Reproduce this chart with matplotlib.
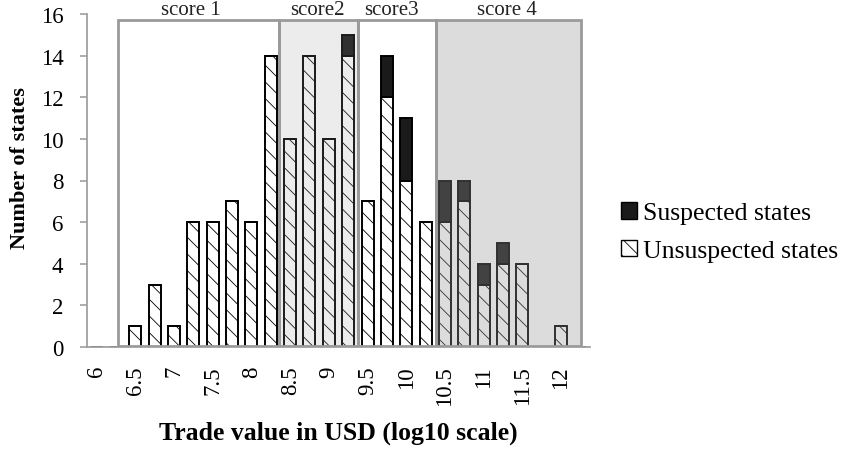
import numpy as np
import matplotlib
matplotlib.use("Agg")
import matplotlib.pyplot as plt
from matplotlib.patches import Rectangle, Patch

# data
categories = [6, 6.25, 6.5, 6.75, 7, 7.25, 7.5, 7.75, 8, 8.25, 8.5, 8.75, 9,
              9.25, 9.5, 9.75, 10, 10.25, 10.5, 10.75, 11, 11.25, 11.5, 11.75,
              12, 12.25]
unsuspected = [0, 0, 1, 3, 1, 6, 6, 7, 6, 14, 10, 14, 10,
               14, 7, 12, 8, 6, 6, 7, 3, 4, 4, 0,
               1, 0]
suspected = [0, 0, 0, 0, 0, 0, 0, 0, 0, 0, 0, 0, 0,
             1, 0, 2, 3, 0, 2, 1, 1, 1, 0, 0,
             0, 0]
tick_values = [6, 6.5, 7, 7.5, 8, 8.5, 9, 9.5, 10, 10.5, 11, 11.5, 12]
tick_labels = ['6', '6.5', '7', '7.5', '8', '8.5', '9', '9.5', '10', '10.5',
               '11', '11.5', '12']

score_names = ['score 1', 'score2', 'score3', 'score 4']
score_edges = [6.27, 8.35, 9.38, 10.38, 12.255]
score_label_x = [7.22, 8.85, 9.81, 11.3]
score_fill = [None, 0.18, None, 0.33]

plt.rcParams['font.family'] = ['Liberation Serif', 'DejaVu Serif']
plt.rcParams['hatch.linewidth'] = 0.6
plt.rcParams['hatch.color'] = '#444444'

fig = plt.figure(figsize=(8.48, 4.52), dpi=100)
ax = fig.add_axes([87 / 848, 1 - 348 / 452, 503 / 848, 333 / 452])

x = np.array(categories)
u = np.array(unsuspected)
s = np.array(suspected)

ax.bar(x, u, width=0.155, color='white', edgecolor='black', linewidth=1.4,
       hatch='\\\\', zorder=2)
ax.bar(x, s, width=0.155, bottom=u, color='#1a1a1a', edgecolor='black',
       linewidth=1.4, zorder=2)

# score boxes drawn on top of the bars
for i in range(len(score_names)):
    x0 = score_edges[i]
    x1 = score_edges[i + 1]
    if score_fill[i] is None:
        fc = 'none'
    else:
        fc = (0.59, 0.59, 0.59, score_fill[i])
    ax.add_patch(Rectangle((x0, 0.05), x1 - x0, 15.67, facecolor=fc,
                           edgecolor='#9a9a9a', linewidth=2, zorder=3))
    ax.text(score_label_x[i], 15.76, score_names[i], ha='center', va='bottom',
            fontsize=15, color='#222222', clip_on=False)

ax.set_xlim(5.875, 12.375)
ax.set_ylim(0, 16)
ax.set_yticks(np.arange(0, 17, 2))
ax.set_xticks(tick_values)
ax.set_xticklabels(tick_labels, rotation=90)

for side in ['top', 'right']:
    ax.spines[side].set_visible(False)
for side in ['left', 'bottom']:
    ax.spines[side].set_color('#a0a0a0')
    ax.spines[side].set_linewidth(1.3)

ax.tick_params(axis='y', direction='out', length=5, width=1.2,
               color='#a0a0a0', labelsize=16.5, pad=12)
ax.tick_params(axis='x', length=0, labelsize=16.5, pad=13)

ax.set_ylabel('Number of states', fontsize=16, fontweight='bold')
ax.yaxis.set_label_coords((30 - 87) / 503, 0.54)
ax.set_xlabel('Trade value in USD (log10 scale)', fontsize=18.5,
              fontweight='bold')
ax.xaxis.set_label_coords(0.5, -(422 - 348) / 333)

handles = [Patch(facecolor='#1a1a1a', edgecolor='black', linewidth=1),
           Patch(facecolor='white', edgecolor='black', linewidth=1,
                 hatch='\\\\')]
fig.legend(handles, ['Suspected states', 'Unsuspected states'],
           loc='center left', bbox_to_anchor=(598 / 848, 1 - 233 / 452),
           frameon=False, fontsize=18.5, handlelength=0.62, handleheight=0.62,
           handletextpad=0.25, labelspacing=0.6)

fig.savefig('out.png', dpi=100)
